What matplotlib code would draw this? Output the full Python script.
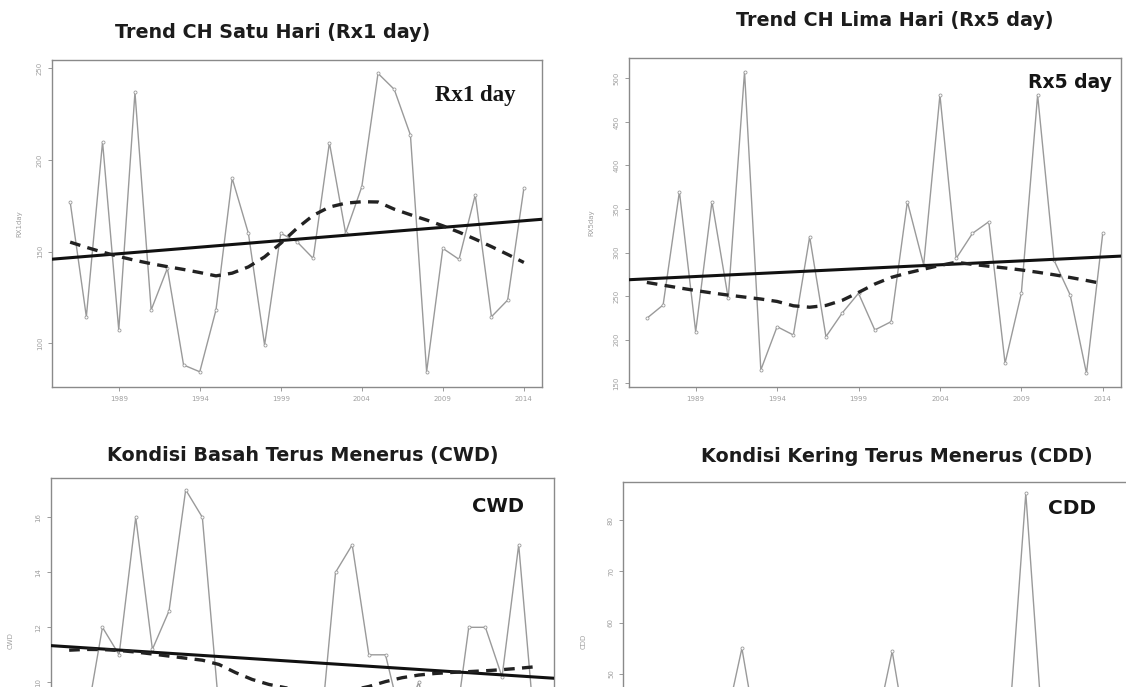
import numpy as np
import matplotlib
matplotlib.use("Agg")
import matplotlib.pyplot as plt

# ---------------- data ----------------
years = list(range(1986, 2015))
xtick_years = [1989, 1994, 1999, 2004, 2009, 2014]

rx1day = [177.2, 114.5, 209.9, 107.3, 236.9, 118.2, 140.9, 88.2, 84.5, 118.2,
          190.0, 160.0, 99.1, 160.0, 155.4, 146.3, 209.4, 160.1, 185.4, 247.2,
          238.5, 213.6, 84.5, 151.8, 145.8, 180.9, 114.5, 123.6, 184.5]

rx5day = [224.6, 239.9, 369.9, 209.2, 358.4, 247.5, 507.6, 165.3, 215.0, 205.4,
          318.2, 203.5, 230.7, 253.3, 211.2, 220.7, 358.4, 285.8, 480.8, 293.4,
          322.1, 335.4, 173.0, 253.3, 480.8, 291.5, 251.3, 161.5, 322.1]

cwd = [7.5, 8.5, 12.0, 11.0, 16.0, 11.2, 12.6, 17.0, 16.0, 9.0,
       9.5, 8.5, 8.0, 7.5, 8.0, 7.5, 14.0, 15.0, 11.0, 11.0,
       8.5, 10.0, 7.5, 7.5, 12.0, 12.0, 10.2, 15.0, 8.0]

cdd = [38, 42, 35, 31, 44, 40, 55, 36, 33, 40,
       45, 37, 30, 42, 39, 54.4, 35, 41, 32, 38,
       43, 34, 40, 85.2, 39, 33, 28.5, 45, 36]

titles = ["Trend CH Satu Hari (Rx1 day)", "Trend CH Lima Hari (Rx5 day)",
          "Kondisi Basah Terus Menerus (CWD)", "Kondisi Kering Terus Menerus (CDD)"]
ylabels = ["RX1day", "RX5day", "CWD", "CDD"]
tags = ["Rx1 day", "Rx5 day", "CWD", "CDD"]
yticks_list = [[100, 150, 200, 250],
               [150, 200, 250, 300, 350, 400, 450, 500],
               [10, 12, 14, 16],
               [50, 60, 70, 80]]


# ---------------- R-style lowess ----------------
def r_lowess(x, y, f=2/3, it=3):
    x = np.asarray(x, float); y = np.asarray(y, float)
    n = len(x)
    ns = max(2, min(n, int(f * n + 1e-7)))
    rw = np.ones(n)
    ys = np.zeros(n)
    for iteration in range(it + 1):
        nleft, nright = 0, ns - 1
        for i in range(n):
            while nright < n - 1 and x[i] - x[nleft] > x[nright + 1] - x[i]:
                nleft += 1
                nright += 1
            h = max(x[i] - x[nleft], x[nright] - x[i])
            h9, h1 = 0.999 * h, 0.001 * h
            w = np.zeros(n)
            for j in range(nleft, n):
                r = abs(x[j] - x[i])
                if r <= h9:
                    w[j] = 1.0 if r <= h1 else (1 - (r / h) ** 3) ** 3
                    w[j] *= rw[j]
                elif x[j] > x[i]:
                    break
            a = w.sum()
            if a <= 0:
                ys[i] = y[i]
                continue
            w = w / a
            if h > 0:
                a = np.sum(w * x)
                c = np.sum(w * (x - a) ** 2)
                if np.sqrt(c) > 0.001 * (x[-1] - x[0]):
                    b = (x[i] - a) / c
                    w = w * (b * (x - a) + 1)
            ys[i] = np.sum(w * y)
        if iteration == it:
            break
        res = y - ys
        cmad = 6 * np.median(np.abs(res))
        if cmad < 1e-7 * np.mean(np.abs(y)):
            break
        r = np.abs(res) / cmad
        rw = np.where(r <= 0.001, 1.0, np.where(r <= 0.999, (1 - r ** 2) ** 2, 0.0))
    return ys


# ---------------- layout (pixels) ----------------
W, H = 1126, 687
fig = plt.figure(figsize=(W / 100, H / 100), dpi=100)
fig.patch.set_facecolor("white")

def box(l, r, t, b):
    return [l / W, 1 - b / H, (r - l) / W, (b - t) / H]

boxes = [(52, 542, 60, 387), (628.6, 1121, 58, 386.7),
         (50.5, 554, 478, 797.8), (623, 1128, 481.7, 796)]
ylims = [(76.2, 254.5), (146.1, 523.3), (5.8, 17.43), (26.2, 87.47)]
series = [rx1day, rx5day, cwd, cdd]
title_pos = [(273, 33), (895, 20), (303, 455), (897, 457)]
tag_pos = [(475, 95, "serif", 16.5), (1070, 82, "sans", 13.5),
           (498, 507, "sans", 14), (1072, 509, "sans", 14.5)]
ylabel_x = [22, 594, 14, 587]

gray = "#9a9a9a"
axc = "#8a8a8a"
x = np.array(years, float)
xlim = (x.min() - 0.04 * (x.max() - x.min()), x.max() + 0.04 * (x.max() - x.min()))

for k in range(4):
    l, r, t, b = boxes[k]
    ax = fig.add_axes(box(l, r, t, b))
    y = np.array(series[k], float)
    ax.plot(x, y, color=gray, lw=1.0, marker="o", ms=2.2, mfc="white", mec=gray, mew=0.6, zorder=2)
    coef = np.polyfit(x, y, 1)
    xx = np.array(xlim)
    ax.plot(xx, np.polyval(coef, xx), color="#111111", lw=2.2, zorder=3)
    ax.plot(x, r_lowess(x, y), color="#222222", lw=2.4, ls=(0, (3.2, 2.2)), zorder=3)
    ax.set_xlim(xlim)
    ax.set_ylim(ylims[k])
    ax.set_xticks(xtick_years)
    ax.set_yticks(yticks_list[k])
    ax.tick_params(axis="both", colors=axc, labelcolor="#a0a0a0", labelsize=5, length=3, width=0.6)
    if k >= 2:
        ax.tick_params(axis="x", labelbottom=False)
    for lab in ax.get_yticklabels():
        lab.set_rotation(90)
        lab.set_va("center")
    for s in ax.spines.values():
        s.set_color(axc)
        s.set_linewidth(1.0)
    ax.set_ylabel(ylabels[k], fontsize=5, color="#a0a0a0")
    ax.yaxis.set_label_coords((ylabel_x[k] - l) / (r - l), 0.5 if k < 2 else 1 - (641 - t) / (b - t))

    tx, ty = title_pos[k]
    fig.text(tx / W, 1 - ty / H, titles[k], ha="center", va="center",
             fontsize=13.8, fontweight="bold", family="DejaVu Sans", color="#1c1c1c")
    gx, gy, fam, fs = tag_pos[k]
    fig.text(gx / W, 1 - gy / H, tags[k], ha="center", va="center",
             fontsize=fs, fontweight="bold",
             family="Liberation Serif" if fam == "serif" else "DejaVu Sans",
             color="#151515")

fig.savefig("out.png", dpi=100, facecolor="white")
